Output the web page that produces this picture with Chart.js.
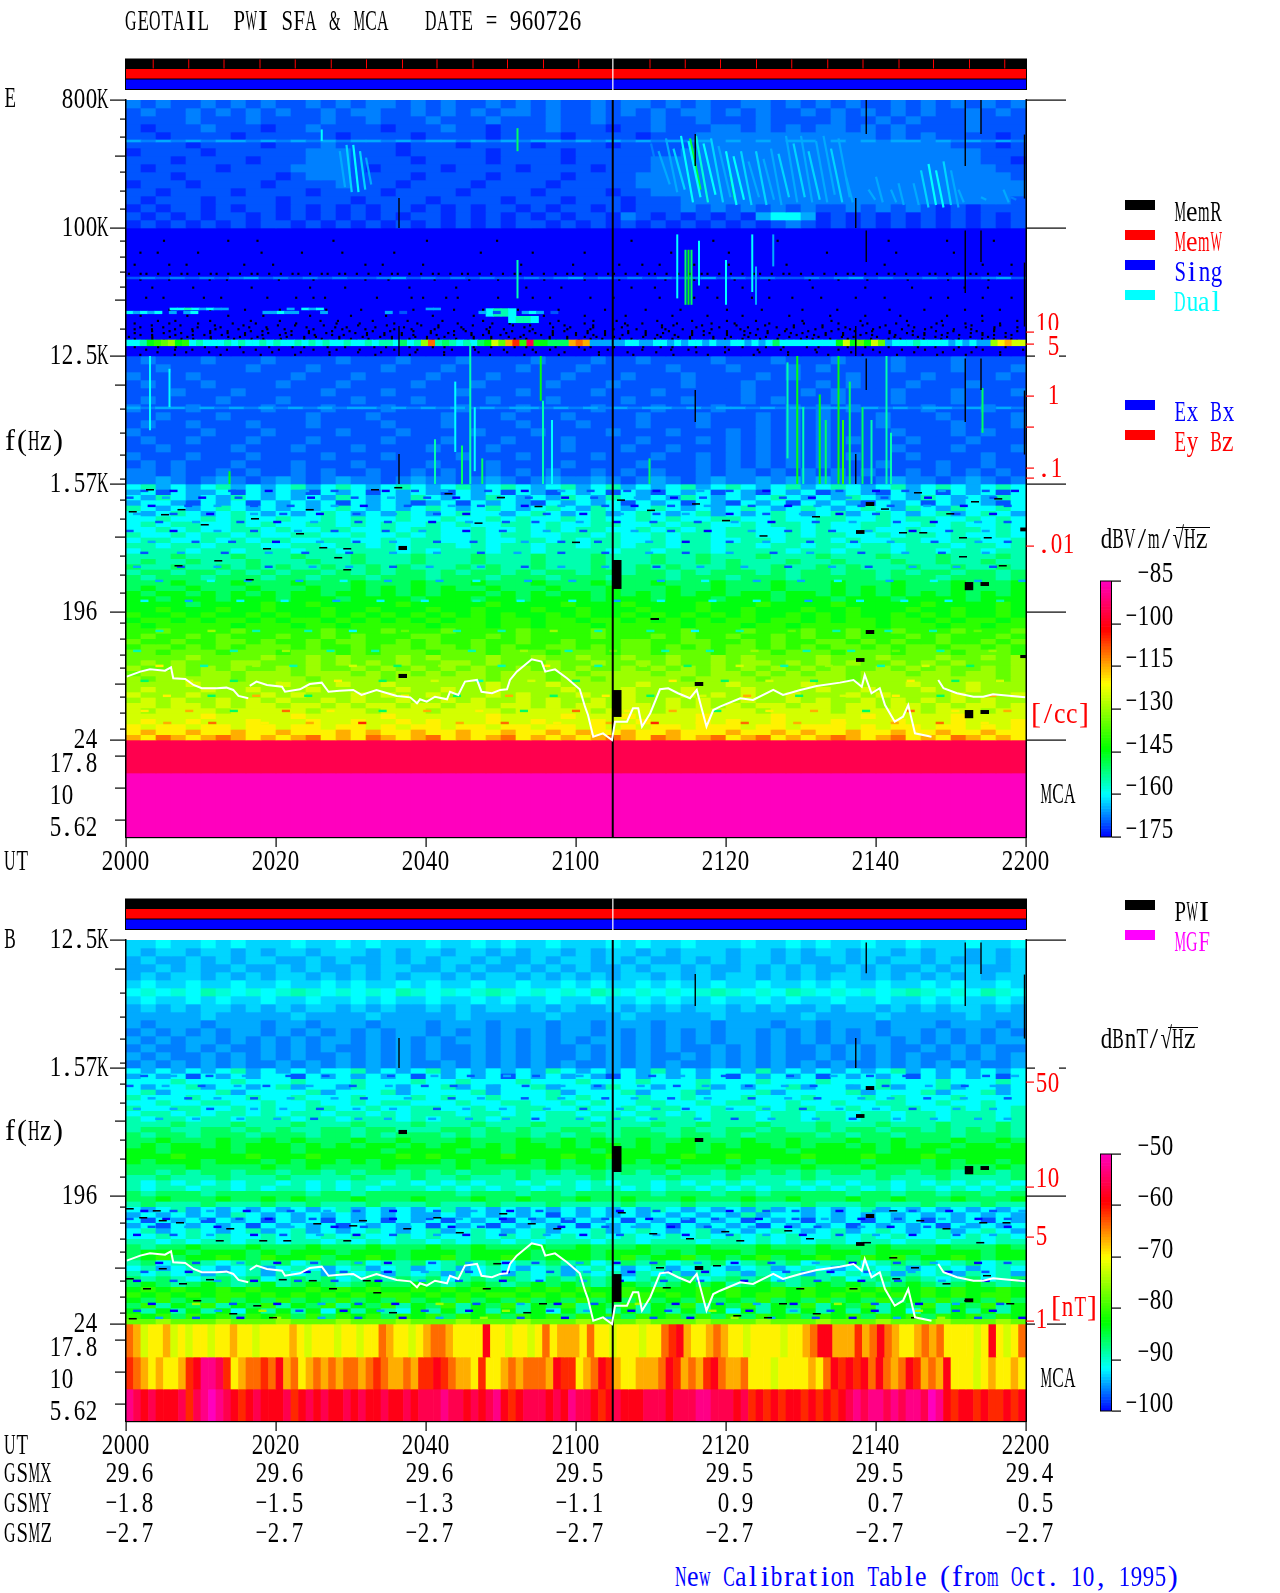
<!DOCTYPE html>
<html>
<head>
<meta charset="utf-8">
<title>GEOTAIL PWI SFA & MCA 960726</title>
<script src="https://cdn.jsdelivr.net/npm/chart.js@4/dist/chart.umd.min.js"></script>
<style>
  html, body { margin: 0; padding: 0; background: #fff; }
  #page { position: relative; width: 1280px; height: 1593px; overflow: hidden; }
  canvas { position: absolute; left: 0; }
  .lbl { position: absolute; white-space: pre; font: 30px/30px "Liberation Serif", serif; height: 30px; }
  .lbl span { display: inline-block; transform-origin: center; }
</style>
</head>
<body>
<div id="page"></div>
<script>
// x is minutes after 20:00, y is "steps" of the frequency axis (each step = factor 8, 24 Hz = 0)
const timeTickValues = [0, 20, 40, 60, 80, 100, 120];
const timeTickLabels = ['2000', '2020', '2040', '2100', '2120', '2140', '2200'];
const gsmx = ['29.6', '29.6', '29.6', '29.5', '29.5', '29.5', '29.4'];
const gsmy = ['-1.8', '-1.5', '-1.3', '-1.1', ' 0.9', ' 0.7', ' 0.5'];
const gsmz = ['-2.7', '-2.7', '-2.7', '-2.7', '-2.7', '-2.7', '-2.7'];

const eFreqTickValues = [5, 4, 3, 2, 1, 0];
const eFreqTickLabels = ['800K', '100K', '12.5K', '1.57K', '196 ', '24 '];
const bFreqTickValues = [3, 2, 1, 0];
const bFreqTickLabels = ['12.5K', '1.57K', '196 ', '24 '];
const mcaTickValues = [-0.125, -0.375, -0.625];
const mcaTickLabels = ['17.8 ', '10   ', '5.62 '];

const shortTicks = [4.852, 4.711, 4.4375, 4.289, 4.148, 3.898, 3.773, 3.656, 3.539, 3.211, 2.586, 2.398, 2.227, 2.039, 1.875, 1.727, 1.4375, 1.289, 1.148, 0.914, 0.789, 0.664, 0.5625, 0.336, 0.211, 0.086];
const mediumTicks = [4.5625, 3.4375, 2.773, 1.586, 0.4375, -0.125, -0.375, -0.625];

const eDensityTicks = [3.1875, 3.094, 2.6875, 2.445, 2.125, 2.047, 1.516];
const eDensityLabelValues = [3.1875, 3.094, 2.6875, 2.125, 1.516];
const eDensityLabels = ['10', ' 5', ' 1', '.1', '.01'];
const bDensityTicks = [1.89, 1.07, 0.68, 0.023];
const bDensityLabels = ['50', '10', '5', '1'];

const statusTickTimes = [3.56, 8.3, 13, 17.8, 22.5, 27.3, 32, 36.8, 41.4, 46.2, 50.8, 55.6, 60.3, 69.8, 74.5, 79.2, 84, 88.7, 93.5, 98.2, 103, 107.6, 112.4, 117.1];
const dropoutTime = 64.9;

// colour bars
const eScaleTicks = [-85, -100, -115, -130, -145, -160, -175];
const bScaleTicks = [-50, -60, -70, -80, -90, -100];

// spectrogram cells: one char per cell, a step of the colour bar (0 = bottom, i = top, A-F = half steps 0.5-5.5)
const eHighRows = [
'B1B11B1B1B11B1B1BB1B1B11B1B1B11B1BB1B1B11BB1B1B1B11B1B1B1B1B',
'1B11B1B1B1B11B1BB11B1B1B1BB1B11B1B1B1BB1B1B11B1B1B1B1B11B1B1',
'1111B111B1111B11B111B111B111B11B111B11B111B1111B11B1B111B111',
'1A111B111A11B1111A111B11A111B111A11B111BB1B1B1BB1B1B1111B111',
'11A1111A111111A1111A1111A1111A1111A111BBBBBBBBBBBB1B1B1111A1',
'1111A1111A111B1111A111A1111A1111A11111BBBBBBBBBBBBBBBBB111A1',
'A1111A111111BBB111A11111A1111A1111111BBBBBBBBBBBBBBBBBBBB111',
'111A1111A111BBB1111A1111A1111A11111BBBBBBBBBBBBBBBBBBBBBB11A',
'1A1111A1111BBBB1A1111A1111A1111A111BBBBBBBBBBBBBBBBBBBBBBB11',
'111A111111A1BBB1111A1111A1111A1111BBBBBBBBBBBBBBBBBBBBBBBBB1',
'A111A1111A1111B111A1111A1111A11111BBBBBBBBBBBBBBBBBBBBBBBBBB',
'11A1111A1111A1111A1111A1111A1111A11BBBBBBBBBBBBBBBBBBBBBBBBB',
'1A111A1111A1111A1111A1111A111A111A111BBBBBBBBBBBBBBBBBBBBBB1',
'A1A11A1A11A1A1A1A11A1A1A11A1A11A1A111B1B1B1B1B11B1B1B1A1A111',
'1A1A1A11A1A1A1A1A1A11A1A1A1A1A11AB1A1A1A1A2332A1A1A1A1A1A1A1',
'A1A1A1A1A11A1A1A1A1A1A1A1A11A1A1A1A1A1A1A1A1B1A1A1A1A1A1A1A1',
'000000000000000000000000000000000000000000000000000000000000',
'000000000000000000000000000000000000000000000000000000000000',
'000000000000000000000000000000000000000000000000000000000000',
'000000000000000000000000000000000000000000000000000000000000',
'000000000000000000000000000000000000000000000000000000000000',
'000000000000000000000000000000000000000000000000000000000000',
'000000000000000000000000000000000000000000000000000000000000',
'000000000000000000000000000000000000000000000000000000000000',
'000000000000000000000000000000000000000000000000000000000000',
'000000000000000000000000000000000000000000000000000000000000',
'000000000000000000000000000000000000000000000000000000000000',
'000000000000000000000000000000000000000000000000000000000000',
'000000000000000000000000000000000000000000000000000000000000',
'000000000000000000000000000000000000000000000000000000000000',
'000000000000000000000000000000000000000000000000000000000000',
'000000000000000000000000000000000000000000000000000000000000',
'1B111B111B1111B111B111B1111B111B11B1111B111B111B111B111B1111',
'11B11111B111B1111B111B1111B111B11111B111B111B1B1111B111B111B',
'B111B111111B111B1111B111B1111B111B111B1111B1B111B1111B1111B1',
'1B111B1111B111B1111B111B1111B111B1111B111B1111B1B111B111B111',
'111B111B11111B111B1111B111B1111B111B11111B111B1B111B111B111B',
'1B1111B111B1111B111B1111B111B1111B111B111B1B111B111B111B1111',
'B111B1111B111B111B1111B111B1111B111B111B1111B1B1B1111B111B11',
'11B111B11111B111B1111B111B111B1111B111B111B1B1B111B111B1111B',
'1B11B111B111B1111B111B1111B111B111B111B111B1B1B111B1111B111B',
'B1111B111B1111B111B1111B111B1111B111B111B1B1B1B1111B111B1B11',
'1B11B111B111B1111B111B111B111B1111B111B1B1B1B1B1B111B111B111',
'11B1111B111B111B1111B111B1111B111B11B111B1B1B1B1111B111B111B',
'B111B111B1111B111B1111B111B1111B111B11B1B1B1B1B1B111B1111B11',
'1B1B111B111B111B1111B111B1111B1111B111B1B1B1B1B111B111B11B11',
'BB1B11B1B11B1B11B11B1B11B1B1B11B1B1B11B1BB1B1B1B1B11B1B1B1B1',
'BB2B1B2B1B2B1B2BB1B2BB1B2B1B2BB2B1B2B1B2BB2B2B2BB1B2BB1B2B1B'
];
const eLowRows = [
'342323423234234323432342343234234232342343234234323423432343',
'231322313232132313232132313213231321323132132312321323132313',
'324323243232324323243232432324324323243232343232432324323243',
'233213231323231323212313232132323132313213231323213231323213',
'432323432323234323234323432343243234323234323432343243243343',
'323432343232343232432343323432342343234232343234234323423432',
'334334343343343433433433434334343343433443343344334344334343',
'343443343433443434334343344343344334344334344343344334343343',
'334343344343344334344334334343443343434344334343343343344343',
'433434434334433433434334344334434334344344334344334344343343',
'344334343443344334344334334434344334344334434443433443344334',
'443443444334434434344434344344344344344344344344344344434434',
'344434434443443444343444344344443443444344443443444344344344',
'444544454445444544454445444544454445445444544454445444544454',
'454454445444544544454445444544454445445454445445444544544544',
'544544545454454454544454544544454454544454454454544454454454',
'455455454545545454554545545455455455454555454554554545545545',
'545554555455455545554555455545554555455545554555554555455545',
'555655565556555655565556555655565556555655565556555655565556',
'565565556555655656565655655565556555655655565556565655565556',
'656656565656656656565666565656656565656656656656565656565656',
'665666566656665666656665665666656665666566656665666566665666',
'666656666766766666766666766667666766667666766667666667666676',
'667666766766676676667667666766766676667667666766766676676676',
'766767667676676767676767676676766767676767667676766767676676',
'677676776767767676767677677677677676767677677676776776767767',
'767777767776776777776777677677767777767776776777776777677677',
'778777787777787778777877778777787777787778777877877877787778',
'787787877787787877788777878777787778787787787877877787877787',
'877877887877878877878778778778777887788778787788787877877878',
'788787878887877878878878787788787887878788787878878788788787',
'887888788878887878887888788878887887888788878887888788878887',
'888898888988989888989888988988988988988989888898889888988989',
'898988899888989898988998988898898898988989989898988989898889',
'988989898898988989898989889898988989898989898989889898988989',
'899989989998999898989899899989899998998998989899899989989989',
'989999989999899998999999899989989999989999899999899999999989',
'9999a99999a999a99a999999a999a99999a99999a9999a999999a999a999',
'9a999a99a999a99999a99a99a9999a999a999a999a9999a99a999a99a999',
'a999a9999a9a999a9a99a999a9a999a99a999a9a9a99a999a9a9999a999a',
'9a9a99a9a9a99a9a99a99a9a99a9a99a9a99a9a99a99a9a99a9a9a9a9a99',
'aa9aa9a9aa9aa9a9aa9aa9aa9aa9a9aa9aa9a9a9a9aa9aa9aa9aa9a9aa9a',
'a9aaaa9aaaaa9aaa9aaa9aaaa9aaaaa9aaa9aaaaaa9aaaa9aaaaa9aaa9aa',
'aaaaabaaaaabaaaaabaaaaaabaaaabaaabaaaabaaaabaaaaabaaaaabaaaa',
'abaabaaabaaabaabaababaaabaabaaabaabaaababaabaaabaaabaaabaaab',
'babbabbabbabbabbababbabbabbabbabababbabbbabbabbbababbabbabab',
'bcbbcbbcbbcbbbcbcbbcbbcbbcbbcbcbbcbbcbbbcbbcbcbbcbbcbbcbbcbb',
'cbdcbcdcbcbcdbcbdcbcdbcbcdbcbcbcdcbdcbcdbcdbcbcdcbcdbcbdcbcb'
];
const eMcaRows = [
'gggggggggggggggggggggggggggggggggggggggggggggggggggggggggggg',
'iiiiiiiiiiiiiiiiiiiiiiiiiiiiiiiiiiiiiiiiiiiiiiiiiiiiiiiiiiii'
];
const bHighRows = [
'CC3CC3C3CCC3CC3C3CCC3CC3C3CC3CCC3C3CC3CCC3CC3C3CC3CC3CCC3CC3',
'C2CC2CC2C2CC2CCC2C2CC2CC2C2CC2C2CC2C2CCC2CC2C2CC2CC2C2CC2C2C',
'2C22C2C2CC22C2C22C2C2CC2C22C2CC2C2C22C2C2CC2C22C2C2CC2C22C2C',
'22C2C22C22C2C22C2CC22C2C22C2C2C22C2CC2C22C2C2C22C2C22C2CC22C',
'2C2CC2C2C2CC2C2C2C2CC2C2CC2C2C2C2CC2C2C2CC2C2C2CC2C2C2C2C2CC',
'C3CC3CC3CC3CC3C3CC3C3CC3CC3CC3C3CC3C3CC3CC3CC3C3CC3CC3C3CC3C',
'3D3D34D3D3D4D3D3D34D3D3D4D3D3D34D3D3D3D4D3D34D3D3D3D4D3D34D3',
'C3CC3C3CC3CC3CC3C3CC3CC3C3CC3CC3CC3C3CC3CC3C3CC3CC3CC3C3CC3C',
'2C2C2CC2C2C2CC2C2C22C2C2CC2C2C22C2C2C2CC2C2C22C2CC2C2C2CC2C2',
'22222C22222C2222C22222C22222C2222C22222C22222C2222C22222C222',
'2B222B222B22B222B222B222B222B22B222B222B222B22B222B222B222B2',
'B2B2B2B22B2B2B2B2B22B2B2B2B2B22B2B2B2B2B22B2B2B2B2B22B2B2B2B',
'2B2B22B2B2B2B22B2B2B2B22B2B2B2B22B2B2B2B22B2B2B2B22B2B2B2B22',
'B2BB2B2BB2B2B2BB2B2B2BB2B2B2BB2B2B2B2BB2B2B2BB2B2B2BB2B2B2BB',
'2B2BB2B2B2B2BB2B2B2B2BB2B2B2BB2B2B2BB2B2B2B2BB2B2B2B2BB2B2B2',
'B2B2B2B2BB2B2B2B2B2BB2B2B2B2B2BB2B2B2BB2B2B2B2B2BB2B2B2B2BB2'
];
const bLowRows = [
'323232342323233423234232323243232324232332423232323423232323',
'232313232331323232313232313232321323232313232313232313232313',
'333433343334333433343343334333433343334333433343334333433343',
'323342332342332433233423233423324332334232334233234233423323',
'342333423333423334233334233342333423342333423333423334233423',
'433343334334333433343433433343433343343334333433343433343333',
'334334433433433434433343344334343344334344334334334433433433',
'433443343433443343344334334433433434433433434433433443343434',
'344343443434434434344434434344344344343444344344344344344434',
'434434434443443444343444344344434434443444344344344344344434',
'444544454445444544454445444544454445445444544454445444544454',
'455445545454455455444554545445544554454455454454554554545454',
'545545554555455454555454555454554555455454555545455455545554',
'556555655656555655655565556556565565565556556555655655565565',
'565665656665656566565665656656566565665656656566565656656656',
'665666656665666665666656656666656665665666665666665666566666',
'666766667666766666767666676667667666676676666766676667666666',
'656665666565665656666565666565665656566656566566656665656656',
'555565555655655556555565555565565555655565555655565555655565',
'554545545545545455454545545454554545455455454545545545545545',
'445444544454444544454454445444454444544454444544445444544445',
'434343434434343443434343443434343443434343443434344343434343',
'434434434344343434443434344344344343443434344343434344343434',
'545554555555455455555545554554555554555455455555455455455455',
'556555655656555655565556556555655655565556556555655655565556',
'454445444544544454445444544454444544454445444544454445444544',
'323423232323234232323423232323232324323232423232342323232323',
'232323243232323232322323232313232323232324233232323232323232',
'313231323132313231323132313231323132313231323132313231323132',
'231323231323231323231323132323132323132323132323132323132323',
'342343234234232343234234323423342343234232343234234323423432',
'334343433434343433434334343434343433434343434334343433434343',
'443434434434434343443434434344434434443443434344344344344344',
'545565556555655565556556555655655565556555655565556555655565',
'566656665656665666566656666566656665656665666566656665666566',
'567566765766756676566756676566656756675656756676576756676566',
'453454345453454534453454534454534545344534545344534545345344',
'342343234234323423423423432342343234234323423432343423432343',
'434342434243424342434243424342434243424342434243434243424342',
'545434545345453454545345454354545345453454534545345454345345',
'565456545645654565565456545656545654565645654565654565456545',
'676766767666767676676767667676766767667676676766767667676676',
'767676776767676767767676776767676776767676776767676767676776',
'657565756575657565756575657565756575657565756575657565756575',
'574657465746574657465746574657465746574657465746574657465746',
'646464636464636464364646464636464646464636464646464636464646',
'767576757675757675767576757675767576757575767576757675767576',
'889888988898889888988898889888988898889888988898889888988898'
];
const bMcaRows = [
'dcabbcababbabbcbbabbbbcbabbbabbabbdcbbabcddcbbbbfbbabbabdbcccbdbbabbbabbdefcbbcdcbbabbbbabbcdffcccecdfdcbbcdcdbbbbabfbabd',
'edcbcbbcefhhgebcddedfcdbcdcdcddcdedccdceefedccbebbcdcdddcfeebcdfecbbcccdfecdcefdccdbbbabbbbcbdfefefdfdcdfecdcfbbbabcbbcb',
'hgfgfffgeghihgfefgfffgefgfgffgfgffgffgfggghggfgfghfefgggfgfhggfefgfffgggfggghhgggfgefefeffefefefghghhghghhgihfeffefeefef'
];

// thin lines and the strong band, drawn on top of the cells
const eLineRow = '2B2B2B22B2B2B2B22B2B22B2B2B22B2B2B2B2B2B2B2B22B2B2B22B2B2B2B';
const eLine2Row = '1B1B1B1B21B1B1B11B21B1B1B11B1B21B1B1B1B21B1B11B1B21B11B1B1B21';
const eLine3Row = '2B22B2B2B2B2B2B22B2B2B2B2B22B2B2B2B22B2B22B2B2B22B2B2B22B2B2B';
const eBandRow = '3346789673433343433434334343433433434435349d4543435' + '6a8ce7g6655' + '5cdc22222' + '33223323233232' + '2332323533333333' + '6a686a8' + '233343333232322' + '9bcaa';
const eWispRow1 = '      33432322        2 323              22                                                                                ';
const eWispRow2 = '32323 2 23         22322   2        2 1          2 1   232 1                                                                 ';
const eBlobRow1 = '                                                3443                                                                    ';
const eBlobRow2 = '                                                   3443                                                                 ';

// thin cell rows that give the low frequency part its streaks, 7.5px cells
const eTextureSteps = [1.953, 1.9, 1.836, 1.773, 1.71, 1.64, 1.555, 1.469, 1.36, 1.25, 1.094, 0.859, 0.703, 0.586, 0.469, 0.352, 0.234, 0.14];
const eTextureRows = [
'  1   0  2    1    0    2   1      0   1   2     1    0    2   1    1   0     2   1    0   2     1    0   1    2     1   0 ',
'1    2    0    1   2     0     1    2    1   0     2   1    0   1     2    0   1     2    1   0    2    1     0    2   1    ',
'   0    1   2    1    1     2   0     1     2   1     0    2     1   0    1    2     1    0   2     1   1    2    0     1  ',
' 2    1    0     2   1    0    1    2     1   0    2     1    0    2    1   2     0    1    2    0    1    2     1    0    ',
'    1    2     1    0    2     1   1     0    2    1   1     2    0    1     1    2    0     1    2     1    0     2   1  ',
'1     0     2    1     2    1      1    2     0    1     2    1      2    1    0     2    1     1    2     0    1    2     ',
'   2     1    1     0     2    1    2     1    1      2    1    1      2    0     1    2     1     1    2     1     2   1  ',
'  1    2     1     2    1     1     2     2     1    2     1     1     2    1     2     1    2      1     2    1     2     ',
' 2     1    2      1     2    2     1    2      2     1    2     2      1     2     2     1     2    1     2     2    1    ',
'    2      3    2      2     3     2      2    3      2     2     3     2     3      2     2    3      2     3     2     2',
'  3     2      3     3      2     3     3      4     3      3     2     3      3     3      2      3     3     3      4   ',
'    4      9     4      4     3      8      4     4      9     4      4     3     4      8     4      4     4     8      ',
' 4      8     4      9     4     4     8      4      9     4     8      4     4     9      4     4     8     4      9    ',
'    b     4      9    4       a     5     9       4     b      4     9     5      a     4     9      4     a     5       ',
'  5     a     5      9      b     5      a     4      a     5      9     b      5     a     5      9     b     5     a   ',
'     b     5     c      5      a     b      5      c     5      b     5      a     c      5     a      b     5      c    ',
'  b     c     5      d     b      5     c      b     5      d      b     c     5      b     c      5     d     b      c  ',
'     c     d      b     c      e     b      c     d      b      c     e     b     d      c     b      c     d     b     '
];
const bTextureSteps = [1.945, 1.867, 1.77, 1.6875, 1.61, 0.89, 0.828, 0.766, 0.703, 0.484, 0.414, 0.344, 0.164, 0.11, 0.055];
const bTextureRows = [
'  1   2    1    2     1    1   2    1     2    1    2   1     2    1    1   2     1    2   1     2    1    1    2     1   2 ',
'1    2    1    2   1     2     1    2    1   1     2   1    2    1     2    1   2     1    2   1    2    1     2    1   2    ',
'   2    1   2    1    2     2   1     2     1   2     1    2     1   2    1    2     1    2   1     2   2    1    2     1  ',
' 2    2    1     2   2    1    2    2     1   2    2     2    1    2    2   1     2    2    1    2    2    1     2    2    ',
'    2    2     2    2    1     2   2     2    2    2   1     2    2    2     2    1    2     2    1     2    2     2   2  ',
'  0   1    2    0     1    2   1    0     1    2    0   1     2    0    1   2     0    1   1     0    2    1    0     1   2',
'1    0    2    1   0     1     2    0    1   2     0   1    2    1     0    2   1     0    1   2    0    1     2    0   1  ',
'   1    2   0    1    2     0   1     2     0   1     2    0     1   2    0    1     2    0   1     2   0    1    2     0  ',
' 0    1    2     0   1    2    0    1     2   0    1     2    0    1    2   0     1    2    0    1    2    0     1    2    ',
'    0    1     2    0    1     2   0     1    2    0   1     2    0    1     2    0    1     2    0     1    2     0   1  ',
'  1     0    1     2    0    1     0    2     1    0     1    2     0    1    0     2    1     0    1     2    0    1     ',
' 0    1     2    0     1    1     0     2    1     0    1     2    0     1    1     0    2    1     0    1     2     0    1',
'   0     9    1     0     2    1    0     9    1     2    0    1     9    0     1    2    0     9    1     0    2     1   ',
' 1    0     2     9    1     0    2     1     0    9     1    2     0    1     9    0     2    1     0     9    1    0    ',
'    2    1     0    9     2    1     0    2     9    1     0     2     1    0     9    2     1    0     2     9    1     0'
];

// thin vertical streaks: time, top, bottom, colour step
const eStreakTimes = [3.2, 5.8, 13.8, 26.1, 41.2, 43.9, 44.8, 45.9, 46.5, 47.5, 52.2, 52.2, 55.3, 55.6, 56.8, 69.8, 73.5, 74.6, 75, 75.4, 76.4, 80, 83.5, 84, 86.3, 88.2, 89.5, 90.3, 92.5, 93.3, 95, 95.6, 96.5, 98.2, 99.4, 101.4, 102, 114.2];
const eStreakTops = [3, 2.9, 2.1, 4.77, 2.35, 2.8, 2.3, 3.1, 2.6, 2.2, 4.78, 3.75, 3, 2.65, 2.5, 2.2, 3.95, 3.83, 3.83, 3.83, 3.9, 3.75, 3.95, 3.7, 3.95, 2.95, 3, 2.6, 2.7, 2.5, 3, 2.5, 2.8, 2.6, 2.5, 3, 2.4, 2.75];
const eStreakBottoms = [2.42, 2.6, 2, 4.68, 2, 2.25, 2, 2, 2.1, 2, 4.6, 3.45, 2.65, 2, 2, 2, 3.45, 3.4, 3.4, 3.4, 3.55, 3.4, 3.5, 3.4, 3.7, 2.2, 2, 2, 2, 2, 2, 2, 2, 2, 2, 2, 2, 2.4];
const eStreakLevels = [3, 3, 6, 3, 4, 3, 5, 4, 3, 5, 5, 4, 6, 4, 3, 5, 3, 5, 6, 5, 3, 3, 3, 2, 2, 4, 6, 4, 6, 5, 6, 7, 5, 5, 4, 4, 4, 5];

// slanted emission stripes above 100K: start time, end time, top, bottom, colour step
const stripeStarts = [28.5, 29.4, 30.3, 31.2, 32, 70, 71, 72, 73, 74, 75, 76, 77, 78, 79, 80, 81, 82, 83, 84, 85, 86, 87, 88, 89, 90, 91, 92, 93, 94, 95, 96, 97, 98, 99, 100, 101, 102, 103, 104, 105, 106, 107, 108, 109, 110, 111, 112, 113, 114, 115, 116, 117, 118, 75.2, 80.6];
const stripeEnds = [29.2, 30.1, 31, 31.9, 32.7, 71.5, 72.5, 73.5, 74.5, 75.6, 76.6, 77.6, 78.6, 79.6, 80.6, 81.4, 82.4, 83.4, 84.4, 85.4, 86.4, 87.4, 88.4, 89.5, 90.5, 91.5, 92.5, 93.5, 94.5, 95.5, 96.5, 96.9, 97.9, 98.9, 99.9, 100.9, 101.7, 102.7, 103.7, 104.7, 105.7, 107, 108, 109, 110, 111, 111.7, 112.7, 113.7, 114.7, 115.7, 116.7, 117.7, 118.7, 76.6, 81.2];
const stripeTops = [4.6, 4.65, 4.65, 4.6, 4.55, 4.66, 4.6, 4.7, 4.62, 4.72, 4.68, 4.72, 4.66, 4.7, 4.64, 4.6, 4.56, 4.6, 4.52, 4.6, 4.54, 4.62, 4.58, 4.72, 4.66, 4.72, 4.6, 4.68, 4.72, 4.62, 4.7, 4.4, 4.34, 4.4, 4.3, 4.4, 4.35, 4.3, 4.35, 4.28, 4.35, 4.45, 4.5, 4.45, 4.52, 4.45, 4.3, 4.26, 4.3, 4.24, 4.3, 4.26, 4.3, 4.24, 4.7, 4.42];
const stripeBottoms = [4.32, 4.28, 4.28, 4.3, 4.34, 4.28, 4.34, 4.28, 4.3, 4.2, 4.24, 4.2, 4.26, 4.2, 4.24, 4.18, 4.22, 4.18, 4.24, 4.18, 4.22, 4.18, 4.24, 4.2, 4.24, 4.2, 4.22, 4.2, 4.26, 4.2, 4.24, 4.2, 4.22, 4.2, 4.22, 4.2, 4.18, 4.2, 4.18, 4.2, 4.18, 4.16, 4.18, 4.16, 4.18, 4.16, 4.2, 4.22, 4.2, 4.22, 4.2, 4.22, 4.2, 4.22, 4.3, 4.22];
const stripeLevels = [2, 2.5, 3, 2.5, 2, 1.5, 2, 2, 2.5, 3, 3, 3.5, 3, 2.5, 2, 3, 3, 2.5, 2, 2.5, 2, 2, 2.5, 2, 2.5, 2, 2.5, 2, 2, 2.5, 2, 2, 1.5, 1.5, 2, 2, 1.5, 2, 2, 1.5, 2, 2.5, 3, 3, 2.5, 2, 2, 1.5, 1.5, 2, 1.5, 1.5, 2, 1.5, 5.5, 5.5];

// data drop outs: short vertical black lines
const eGapTimes = [98.7, 98.7, 98.7, 111.9, 111.9, 111.9, 114, 114, 114, 97.3, 97.3, 97.3, 36.4, 36.4, 36.4, 75.9, 75.9, 119.8, 119.8, 119.8];
const eGapTops = [5, 3.98, 2.98, 5, 3.98, 2.98, 5, 3.98, 2.98, 4.234, 3.234, 2.234, 4.234, 3.234, 2.234, 4.734, 2.734, 4.73, 3.73, 2.73];
const eGapBottoms = [4.734, 3.734, 2.734, 4.484, 3.492, 2.484, 4.734, 3.734, 2.734, 4, 3, 2, 4, 3, 2, 4.484, 2.484, 4.23, 3.23, 2.23];
const bGapTimes = [36.4, 75.9, 98.7, 111.9, 114, 97.3, 119.8];
const bGapTops = [2.234, 2.734, 2.98, 2.98, 2.98, 2.234, 2.73];
const bGapBottoms = [2, 2.484, 2.74, 2.484, 2.734, 2, 2.23];

// black blocks
const eBlockTimes = [36.9, 36.9, 65.5, 65.5, 99.2, 99.2, 97.9, 97.9, 112.4, 112.4, 114.5, 114.5, 76.4, 70.5, 119.8, 119.8];
const eBlockTops = [1.516, 0.516, 1.406, 0.39, 1.859, 0.859, 1.64, 0.64, 1.234, 0.234, 1.234, 0.234, 0.453, 0.953, 1.66, 0.664];
const eBlockBottoms = [1.484, 0.484, 1.18, 0.18, 1.828, 0.828, 1.61, 0.61, 1.17, 0.17, 1.203, 0.203, 0.422, 0.9375, 1.63, 0.64];
const bBlockTimes = [36.9, 65.5, 65.5, 76.4, 76.4, 99.2, 99.2, 97.9, 97.9, 112.4, 112.4, 114.5];
const bBlockTops = [1.516, 1.39, 0.39, 1.453, 0.453, 1.859, 0.859, 1.64, 0.64, 1.234, 0.2, 1.234];
const bBlockBottoms = [1.484, 1.1875, 0.172, 1.422, 0.422, 1.828, 0.828, 1.61, 0.61, 1.17, 0.17, 1.203];

// thin black dashes in the low frequency part
const eDashTimes = [3.2, 0.9, 5.2, 7.4, 10.5, 12.3, 7, 16.5, 18.8, 24.5, 17.2, 29.5, 28.3, 29.5, 26.3, 33.2, 36.3, 23.2, 101.2, 105.6, 103.6, 106.3, 111.6, 113.2, 116.3, 114.9, 111.6, 116.9, 109.9, 50, 47, 70, 76, 60, 85, 92, 43, 55, 66, 80];
const eDashSteps = [1.961, 1.789, 1.766, 1.805, 1.6875, 1.406, 1.367, 1.258, 1.5, 1.805, 1.734, 1.5, 1.43, 1.336, 1.508, 1.961, 1.977, 1.617, 1.81, 1.9375, 1.625, 1.625, 1.586, 1.867, 1.89, 1.586, 1.4375, 1.367, 1.773, 1.9, 1.7, 1.8, 1.85, 1.55, 1.6, 1.75, 1.93, 1.83, 1.88, 1.72];
const bDashTimes = [0.5, 4.1, 2.3, 7.2, 4.9, 13.9, 12.5, 18.3, 21.5, 29.5, 25.5, 30.3, 37.5, 31.6, 0.5, 4.9, 0.9, 9.5, 7.6, 27.6, 32.1, 19.6, 14.3, 17.5, 35.6, 33.5, 24.9, 11.2, 20.9, 2.8, 41.5, 44.5, 49.5, 54.1, 57.5, 50.3, 48.1, 53.5, 55.6, 66.1, 70.3, 79.9, 75.2, 81.9, 88.3, 91.2, 71.2, 87.6, 85.6, 81.5, 92.1, 89.9, 78.8, 72.1, 102.3, 105.9, 109.4, 114.3, 117.4, 102.3, 105.2, 109.4, 112.3, 114.8, 117.9, 102.7, 98.8, 113.9, 97, 105.2];
const bDashSteps = [0.906, 0.89, 0.836, 0.797, 0.813, 0.75, 0.656, 0.656, 0.656, 0.656, 0.789, 0.773, 0.75, 0.813, 0.359, 0.4375, 0.047, 0.1875, 0.32, 0.281, 0.344, 0.055, 0.086, 0.148, 0.094, 0.25, 0.344, 0.352, 0.352, 0.281, 0.836, 0.719, 0.477, 0.789, 0.75, 0.867, 0.281, 0.094, 0.164, 0.875, 0.711, 0.727, 0.672, 0.656, 0.734, 0.672, 0.445, 0.164, 0.055, 0.07, 0.086, 0.281, 0.461, 0.289, 0.89, 0.813, 0.75, 0.797, 0.797, 0.523, 0.445, 0.32, 0.1875, 0.383, 0.164, 0.359, 0.641, 0.641, 0.281, 0.055];

// black specks between 12.5K and 100K, one string per height
const speckSteps = [3.906, 3.813, 3.719, 3.648, 3.602, 3.54, 3.461, 3.367, 3.32, 3.28, 3.26, 3.245, 3.23, 3.215, 3.2, 3.185, 3.17, 3.155, 3.14, 3.125, 3.075, 3.055, 3.035, 3.015];
const speckRows = [
'      .          .    .            .               .           .                      .             .          .                  .         .       .     ',
'  .  .      .          .      .      .        .              .        .        .              .         .                .           .         .            ',
' .     .  .         .    .               .  .      .                .        .       .   .  .     .     .         .                .                .    .  ',
'. .. . . .. . .. . . .. . . .. . .. .. . . . .. . . .. . .. . . . .. . . . .. . . .. . . .. . . . .. . . . .. . .. . . . . .. . . .. . . .. . . .. . . .  ',
'  .    .      .  .        .     .        .   .       .     .    .       .      .     .       .    .      .     .      .    .    .      .      .      .      ',
'    .      .         .         .     .          .       .           .     .           .   .        .     .           .        .       .        .   .      ',
'   .  .      .  .       .    .  . .        .     . .   . .      .     .  .      .   .       .     .   .     .  .   .    .     .    .       .  .     .    .  ',
'       .      .     .     .       .     .        .      .    .     .      .       .      .     .       .     .      .     .        .     .      .     .    ',
'  .       .      .     .       .      .     .       .      .      .    .      .      .       .     .     .       .      .     .     .       .     .       ',
'     .  .     .      .    .      .  .     .     .     .      .       .    .     .   .      .     .     .    .       .    .    .       .     .      .     . ',
' .     .    .     .   .      .      .   .     .   .      .     .  .      .     .      .  .     .     .   .     .     .     .    .    .      .    .     .    ',
'    .    .     .    .     .  .    .     .    .     .  .     .      .  .     .    .     .     . .    .     .    .    .    .      .   .   .     .    .    .    ',
'  .   .     .   .    .  .      .    . .    .    .     .   .    .     .    .  .   .    .      .     .   .    .    .  .    .   .     .     .  .     .    .   . ',
' .  .   .  .   .   .    .  .    .    .   .    .  .   .    .   .  .    .     .   .   .   .    .  .    .    .  .    .    .   . .   .    .   .    .  .   .     ',
'    .  .   .  .  .   . .    .  .   .  .   .  .   .  .   . .   .   .  .   . .   .  .   .  .   .   . .   .  .   .  .   .   .   .  .  .   .   .  .   .  .   . ',
' .    .  .    .  .  .   .  .   .  .    . .  .  .    .  .   .  .  .    .  .   . .  .   .  .  .    .  .  .   .  .   . .   .  .   .   .  .  .   .   . .   .   ',
'  . .   .  . .  .   .  .  . .   .  . .   .  .  . .   .  .  . .  .   .  . .   .  . .  .   . .  .  . .   .  . .   .  .  . .  .  . .   .  . .  .  .   . .  .  ',
'.   .  .  .   .  . .  .    .  . .   .   .  . .   . .  .    .  .  . .    .  .  . .  .    .  .  . .   .  .  .  .   .  . .   . .   .  .   .  . .   .  .  .   ',
' .  .    . .  .   .  . .  .   .  .  . .  .   .  .  . .  .  .  .   . .   .  .   . .  . .   .  .  .   . .  .  .  .   . .  .  .   .  . .   .  .  .   . .  .  ',
'   .  .    .   . .   .   . .   .   .   .  . .   .   .  .  . .   .  .   . .   .  .    . .  .   . .   .  .   . .  .   .   .  . .   .   .  . .  .   .  .   . ',
' .   .  .    . .   .    .   . .   .  .    . .   .   . .    .  .   . .    .   . .   .    .  . .   .    .  .   .  .   . .    .  .   .    .  .   .  .    .   ',
'   .    .  .     .    .   .     .   .   .     .   .     .   .    .    .  .     .   .     .    .  .      .    .   .     .   .     .    .   .    .    .      .',
'     .    .   .     .    .    .    .    .   .     .    .     .    .    .    .     .    .    .      .    .     .    .    .     .    .     .    .    .    .    ',
'  .     .       .      .     .     .       .     .     .       .     .     .      .     .      .     .       .     .      .     .     .      .    .     .    '
];

// electron cyclotron frequency line, same in both panels
const fceTimes = [0.1, 1.9, 3.2, 5.2, 6, 6.3, 7.9, 9, 10.1, 12.1, 13.4, 14.3, 15, 16.3, 16.4, 16.5, 17.4, 18.8, 20.8, 21.2, 23.2, 24.5, 26.1, 27, 28.5, 30.3, 31.4, 33.4, 36.1, 37.9, 38.8, 39.2, 40.1, 41.2, 42.8, 43.2, 44.3, 45.2, 46.8, 47.4, 48.8, 49.9, 50.8, 51.2, 52.1, 54.1, 55.4, 55.9, 57.2, 58.8, 60.5, 61.2, 61.6, 62.3, 63.6, 64.8, 65.2, 66.8, 67.6, 68.3, 68.8, 69.9, 71.2, 72.3, 73.6, 75.2, 76.1, 77.4, 78.3, 79.2, 81.9, 83.6, 86.3, 87.6, 89.9, 92.1, 95.2, 97, 98.1, 98.5, 99.4, 100.5, 101.2, 102.5, 103.6, 104.3, 105.2, 107.4, 107.9, 108.3, 109, 110.8, 113, 114.3, 115.6, 119.9];
const fceSteps = [0.495, 0.534, 0.552, 0.541, 0.568, 0.482, 0.477, 0.43, 0.404, 0.404, 0.409, 0.391, 0.344, 0.326, null, 0.422, 0.456, 0.43, 0.416, 0.377, 0.396, 0.437, 0.448, 0.377, 0.385, 0.391, 0.352, 0.391, 0.344, 0.333, 0.287, 0.318, 0.299, 0.338, 0.318, 0.377, 0.352, 0.456, 0.469, 0.377, 0.365, 0.391, 0.396, 0.469, 0.534, 0.63, 0.612, 0.534, 0.552, 0.482, 0.396, 0.26, 0.195, 0.026, 0.052, 0, 0.143, 0.143, 0.248, 0.248, 0.104, 0.209, 0.396, 0.404, 0.365, 0.326, 0.391, 0.104, 0.234, 0.26, 0.326, 0.313, 0.391, 0.352, 0.391, 0.422, 0.448, 0.469, 0.416, 0.508, 0.365, 0.404, 0.273, 0.143, 0.182, 0.273, 0.052, 0.026, null, 0.469, 0.404, 0.365, 0.338, 0.338, 0.357, 0.333];

// ---- layout, colours ----
const PLOT_LEFT = 126, PLOT_RIGHT = 1026, PLOT_W = 900;
const CELL = 12;
const page = document.getElementById('page');
const measure = document.createElement('canvas').getContext('2d');
measure.font = '30px "Liberation Serif"';

const paletteStops = [[0, 0, 0, 255], [3, 0, 255, 255], [6.2, 0, 255, 0], [10.8, 255, 255, 0], [14.6, 255, 0, 0], [18, 255, 0, 190]];

function levelColor(n){
    for(let i = 1; i < paletteStops.length; i++){
        const a = paletteStops[i-1], b = paletteStops[i];
        if(n <= b[0]){
            const f = (n - a[0]) / (b[0] - a[0]);
            const c = [1,2,3].map(k => Math.round(a[k] + (b[k]-a[k]) * f));
            return `rgb(${c[0]},${c[1]},${c[2]})`;
        }
    }
    return 'rgb(255,0,190)';
}

function cellLevel(ch){
    const half = 'ABCDEF'.indexOf(ch);
    return half >= 0 ? half + 0.5 : parseInt(ch, 36);
}

// every glyph goes in a 12px cell, squeezed when it is too wide
function label(x, cy, str, color, white){
    const d = document.createElement('div');
    d.className = 'lbl';
    d.style.left = x + 'px';
    d.style.top = (cy - 15) + 'px';
    d.style.color = color || '#000';
    if(white) d.style.background = '#fff';
    for(const ch of str.replace(/-/g, '\u2212')){
        const s = document.createElement('span');
        const w = measure.measureText(ch).width;
        s.textContent = ch;
        s.style.width = w + 'px';
        s.style.margin = `0 ${(CELL - w) / 2}px`;
        if(w > CELL - 0.5) s.style.transform = `scaleX(${(CELL - 0.5) / w})`;
        d.appendChild(s);
    }
    page.appendChild(d);
}

function hline(x, y, w, h, color){
    const d = document.createElement('div');
    d.style.cssText = `position:absolute;left:${x}px;top:${y}px;width:${w}px;height:${h}px;background:${color}`;
    page.appendChild(d);
}

function rowDataset(row, top, bottom, order, thickness){
    const colWidth = 120 / row.length;
    const data = [], colors = [];
    [...row].forEach((ch, i) => {
        if(ch === ' ') return;
        data.push({ x: (i + 0.5) * colWidth, y: [bottom, top] });
        colors.push(ch === '.' ? '#000' : levelColor(cellLevel(ch)));
    });
    return { data, backgroundColor: colors, barThickness: thickness || PLOT_W / row.length, grouped: false, order };
}

function barsDataset(times, tops, bottoms, thickness, color, order){
    return {
        data: times.map((t, i) => ({ x: t, y: [bottoms[i], tops[i]] })),
        backgroundColor: color, barThickness: thickness, grouped: false, order, inflateAmount: 0
    };
}

function buildPanel(cfg){
    const canvas = document.createElement('canvas');
    canvas.width = 1280;
    canvas.height = cfg.height;
    canvas.style.top = cfg.canvasTop + 'px';
    page.appendChild(canvas);

    const datasets = [];
    cfg.highRows.forEach((row, i) => datasets.push(rowDataset(row, cfg.maxStep - i / 16, cfg.maxStep - (i + 1) / 16, 9)));
    cfg.lowRows.forEach((row, i) => datasets.push(rowDataset(row, 2 - i / 24, 2 - (i + 1) / 24, 9)));
    cfg.mcaRows.forEach((row, i) => datasets.push(rowDataset(row, cfg.mcaEdges[i], cfg.mcaEdges[i+1], 9)));
    cfg.overlays.forEach(o => datasets.push(rowDataset(o[0], o[1], o[2], 8, o[3])));
    cfg.textureRows.forEach((row, i) => datasets.push(rowDataset(row, cfg.textureSteps[i], cfg.textureSteps[i] - 0.014, 8)));
    if(cfg.stripes){
        stripeStarts.forEach((t, i) => datasets.push({
            type: 'line', data: [{ x: t, y: stripeTops[i] }, { x: stripeEnds[i], y: stripeBottoms[i] }],
            borderColor: levelColor(stripeLevels[i]), borderWidth: 2.2, pointRadius: 0, order: 7
        }));
        eStreakTimes.forEach((t, i) => datasets.push(barsDataset([t], [eStreakTops[i]], [eStreakBottoms[i]], 2, levelColor(eStreakLevels[i]), 7)));
    }
    datasets.push(barsDataset(cfg.dashTimes, cfg.dashSteps, cfg.dashSteps.map(v => v - 0.012), 8, '#000', 6));
    datasets.push(barsDataset(cfg.gapTimes, cfg.gapTops, cfg.gapBottoms, 1.4, '#000', 5));
    datasets.push(barsDataset(cfg.blockTimes, cfg.blockTops, cfg.blockBottoms, 8.5, '#000', 3));
    datasets.push(barsDataset([dropoutTime], [cfg.maxStep], [-0.758], 2, '#000', 2));
    datasets.push({
        type: 'line', data: fceTimes.map((t, i) => ({ x: t, y: fceSteps[i] })),
        borderColor: '#fff', borderWidth: 2, pointRadius: 0, tension: 0, order: 1
    });

    const decor = {
        id: 'decor',
        afterDatasetsDraw(chart){
            const c = chart.ctx, a = chart.chartArea, xs = chart.scales.x, ys = chart.scales.y;
            const tick = (x0, x1, v, col) => {
                c.fillStyle = col || '#000';
                c.fillRect(x0, Math.round(ys.getPixelForValue(v)) - 0.5, x1 - x0, 1.2);
            };
            // status bars above the plot
            const st = a.top - 41.5;
            c.fillStyle = '#000'; c.fillRect(a.left - 1, st, PLOT_W + 2, 31.5);
            c.fillStyle = '#f00'; c.fillRect(a.left, st + 10.5, PLOT_W, 9.5);
            c.fillStyle = '#00f'; c.fillRect(a.left, st + 21, PLOT_W, 9.5);
            if(cfg.statusTicks){
                c.fillStyle = '#f00';
                statusTickTimes.forEach(t => c.fillRect(xs.getPixelForValue(t), st + 1, 1, 9));
            }
            c.fillStyle = '#fff';
            c.fillRect(xs.getPixelForValue(dropoutTime) - 0.5, st, 1.2, 31.5);
            // frame and axis ticks
            c.fillStyle = '#000';
            c.fillRect(a.left - 1, a.top - 1, 1.5, a.bottom - a.top + 2);
            c.fillRect(a.right - 0.5, a.top - 1, 1.5, a.bottom - a.top + 2);
            c.fillRect(a.left, a.bottom, PLOT_W, 1.2);
            cfg.freqTicks.forEach(v => {
                tick(110, a.left, v);
                tick(a.right, 1066, v);
            });
            shortTicks.filter(v => v < cfg.maxStep).forEach(v => tick(120, a.left, v));
            mediumTicks.filter(v => v < cfg.maxStep).forEach(v => tick(115, a.left, v));
            cfg.densityTicks.forEach(v => tick(a.right, 1034, v, '#f00'));
            timeTickValues.forEach(t => {
                c.fillStyle = '#000';
                c.fillRect(xs.getPixelForValue(t) - 0.5, a.bottom, 1.2, 10);
            });
        }
    };

    return new Chart(canvas, {
        type: 'bar',
        data: { datasets },
        plugins: [decor],
        options: {
            responsive: false,
            animation: false,
            devicePixelRatio: 1,
            events: [],
            layout: { padding: { left: PLOT_LEFT, right: 1280 - PLOT_RIGHT, top: cfg.plotTop - cfg.canvasTop, bottom: cfg.canvasTop + cfg.height - cfg.plotBottom } },
            plugins: { legend: { display: false }, tooltip: { enabled: false } },
            scales: {
                x: { type: 'linear', display: false, min: 0, max: 120, offset: false },
                y: { type: 'linear', display: false, min: -0.758, max: cfg.maxStep }
            }
        }
    });
}

function buildColorBar(top, bottom, min, max, ticks){
    const canvas = document.createElement('canvas');
    canvas.width = 40;
    canvas.height = bottom - top + 4;
    canvas.style.left = '1098px';
    canvas.style.top = (top - 2) + 'px';
    page.appendChild(canvas);
    const values = [];
    for(let n = 0; n < 90; n++) values.push(n);
    const step = (max - min) / 90;
    const chart = new Chart(canvas, {
        type: 'bar',
        data: { datasets: [{
            data: values.map(n => ({ x: 0.5, y: [min + n * step, min + (n + 1) * step] })),
            backgroundColor: values.map(n => levelColor((n + 0.5) / 5)),
            barThickness: 12, grouped: false
        }] },
        plugins: [{
            id: 'barFrame',
            afterDatasetsDraw(ch){
                const c = ch.ctx, a = ch.chartArea;
                c.strokeStyle = '#000'; c.lineWidth = 1;
                c.strokeRect(a.left + 0.5, a.top, a.right - a.left - 1, a.bottom - a.top);
                c.fillStyle = '#000';
                ticks.forEach(v => c.fillRect(a.right, Math.round(ch.scales.y.getPixelForValue(v)) - 0.5, 9, 1.2));
            }
        }],
        options: {
            responsive: false, animation: false, devicePixelRatio: 1, events: [],
            layout: { padding: { left: 2, right: 26, top: 2, bottom: 2 } },
            plugins: { legend: { display: false }, tooltip: { enabled: false } },
            scales: {
                x: { type: 'linear', display: false, min: 0, max: 1 },
                y: { type: 'linear', display: false, min, max }
            }
        }
    });
    ticks.forEach(v => {
        const s = String(v);
        const y = chart.scales.y.getPixelForValue(v) + top - 2;
        label(1173 - s.length * CELL, y - 9, s);
    });
}

const ePanel = buildPanel({
    canvasTop: 0, height: 860, plotTop: 100, plotBottom: 837, maxStep: 5,
    highRows: eHighRows, lowRows: eLowRows, mcaRows: eMcaRows, mcaEdges: [0, -0.258, -0.758],
    overlays: [
        [eLineRow, 4.6875, 4.672], [eLine2Row, 3.617, 3.602], [eLine3Row, 2.602, 2.587],
        [eBandRow, 3.125, 3.08], [eWispRow1, 3.375, 3.36], [eWispRow2, 3.35, 3.33],
        [eBlobRow1, 3.37, 3.31], [eBlobRow2, 3.31, 3.26]
    ].concat(speckRows.map((r, i) => [r, speckSteps[i], speckSteps[i] - 0.012, 1.5])),
    textureRows: eTextureRows, textureSteps: eTextureSteps, stripes: true,
    dashTimes: eDashTimes, dashSteps: eDashSteps,
    gapTimes: eGapTimes, gapTops: eGapTops, gapBottoms: eGapBottoms,
    blockTimes: eBlockTimes, blockTops: eBlockTops, blockBottoms: eBlockBottoms,
    freqTicks: eFreqTickValues, densityTicks: eDensityTicks, statusTicks: true
});

const bPanel = buildPanel({
    canvasTop: 880, height: 560, plotTop: 940, plotBottom: 1421, maxStep: 3,
    highRows: bHighRows, lowRows: bLowRows, mcaRows: bMcaRows, mcaEdges: [0, -0.258, -0.508, -0.758],
    overlays: [],
    textureRows: bTextureRows, textureSteps: bTextureSteps, stripes: false,
    dashTimes: bDashTimes, dashSteps: bDashSteps,
    gapTimes: bGapTimes, gapTops: bGapTops, gapBottoms: bGapBottoms,
    blockTimes: bBlockTimes, blockTops: bBlockTops, blockBottoms: bBlockBottoms,
    freqTicks: bFreqTickValues, densityTicks: bDensityTicks, statusTicks: false
});

// ---- text ----
function freqLabels(chart, canvasTop, values, labels, dy){
    values.forEach((v, i) => {
        const y = chart.scales.y.getPixelForValue(v) + canvasTop + dy;
        label(109 - labels[i].length * CELL, y, labels[i]);
    });
}
function timeLabels(chart, y, labels, dx){
    timeTickValues.forEach((t, i) => label(chart.scales.x.getPixelForValue(t) + dx, y, labels[i]));
}

label(125, 20, 'GEOTAIL  PWI SFA & MCA   DATE = 960726');
label(4, 97, 'E');
label(4, 440, 'f(Hz)');
freqLabels(ePanel, 0, eFreqTickValues, eFreqTickLabels, -2);
freqLabels(ePanel, 0, mcaTickValues, mcaTickLabels, 6);
label(4, 860, 'UT');
timeLabels(ePanel, 860, timeTickLabels, -25);

label(4, 938, 'B');
label(4, 1130, 'f(Hz)');
freqLabels(bPanel, 880, bFreqTickValues, bFreqTickLabels, -2);
freqLabels(bPanel, 880, mcaTickValues, mcaTickLabels, 6);
label(4, 1444, 'UT');
timeLabels(bPanel, 1444, timeTickLabels, -25);
label(4, 1472, 'GSMX');
label(4, 1502, 'GSMY');
label(4, 1532, 'GSMZ');
timeLabels(bPanel, 1472, gsmx, -21);
timeLabels(bPanel, 1502, gsmy, -21);
timeLabels(bPanel, 1532, gsmz, -21);

// legends
[['MemR', '#000', 200], ['MemW', '#f00', 230], ['Sing', '#00f', 260], ['Dual', '#0ff', 290],
 ['Ex Bx', '#00f', 400], ['Ey Bz', '#f00', 430], ['PWI', '#000', 900], ['MGF', '#f0f', 930]].forEach(l => {
    hline(1125, l[2], 30, 10, l[1]);
    label(1174, l[2] + 11, l[0], l[1]);
});

// density labels in red
const eDensityX = [1035, 1035, 1035, 1038, 1038], eDensityDy = [-10, 1, -2, -1, -3];
eDensityLabels.forEach((s, i) => {
    label(eDensityX[i], ePanel.scales.y.getPixelForValue(eDensityLabelValues[i]) + eDensityDy[i], s, '#f00', true);
});
label(1030, 713, '[/cc]', '#f00');
label(1040, 793, 'MCA');
const bDensityX = [1035, 1035, 1035, 1035], bDensityDy = [0, -10, -2, -3];
bDensityLabels.forEach((s, i) => {
    label(bDensityX[i], bPanel.scales.y.getPixelForValue(bDensityTicks[i]) + 880 + bDensityDy[i], s, '#f00', true);
});
label(1050, 1306, '[nT]', '#f00');
label(1040, 1377, 'MCA');

// colour bars and units
label(1100, 538, 'dBV/m/\u221AHz');
hline(1176, 527, 34, 1, '#000');
buildColorBar(581, 837, -175, -85, eScaleTicks);
label(1100, 1038, 'dBnT/\u221AHz');
hline(1168, 1027, 30, 1, '#000');
buildColorBar(1154, 1411, -100, -50, bScaleTicks);

label(675, 1576, 'New Calibration Table (from Oct. 10, 1995)', '#00f');
</script>
</body>
</html>
